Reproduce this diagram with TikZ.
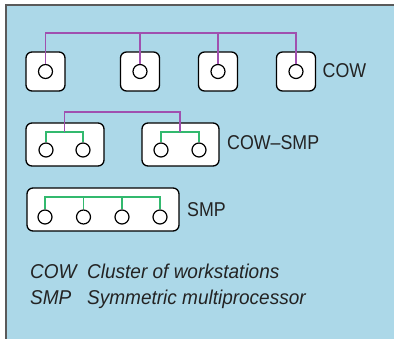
\documentclass[tikz,border=0pt]{standalone}
\usepackage{fontspec}
\setmainfont{Liberation Sans}
\newfontfamily\condfont[FakeStretch=0.89]{Liberation Sans}
\newfontfamily\legfont[FakeStretch=0.95]{Liberation Sans Italic}
\definecolor{bgblue}{RGB}{172,216,232}
\definecolor{pur}{RGB}{160,80,175}
\definecolor{grn}{RGB}{50,185,110}
\definecolor{txt}{RGB}{35,35,35}
\definecolor{edge}{RGB}{90,90,90}
\begin{document}
\begin{tikzpicture}[x=1pt,y=-1pt,
  box/.style={draw=black,fill=white,line width=1.3pt,rounded corners=6pt,inner sep=0pt},
  cpu/.style={draw=black,fill=white,circle,line width=1.2pt,minimum size=14pt,inner sep=0pt},
  pbus/.style={draw=pur,line width=1.5pt},
  gbus/.style={draw=grn,line width=1.5pt},
  lab/.style={anchor=west,inner sep=0pt,text=txt,font=\condfont\fontsize{20}{23}\selectfont},
  leg/.style={anchor=base west,inner sep=0pt,text=txt,font=\legfont\fontsize{20}{23}\selectfont}]
\useasboundingbox (0,0) rectangle (394,339);
\fill[bgblue] (6,5) rectangle (394,339);
\draw[edge,line width=1.8pt] (6,339) -- (6,5) -- (394,5);
% COW row
\node[box,minimum width=39pt,minimum height=39pt] (b1) at (45.5,71.5) {};
\node[box,minimum width=39pt,minimum height=39pt] (b2) at (140,71.5) {};
\node[box,minimum width=39pt,minimum height=39pt] (b3) at (218,71.5) {};
\node[box,minimum width=39pt,minimum height=39pt] (b4) at (296,71.5) {};
\node[cpu] (c1) at (45.5,71.5) {};
\node[cpu] (c2) at (140,71.5) {};
\node[cpu] (c3) at (218,71.5) {};
\node[cpu] (c4) at (296,71.5) {};
\coordinate (pb1) at (0,33);
\draw[pbus] (c1.north) |- (c4.north |- pb1) -- (c4.north);
\draw[pbus] (c2.north) -- (c2.north |- pb1);
\draw[pbus] (c3.north) -- (c3.north |- pb1);
\node[lab] (lcow) at (322.5,71) {COW};
% COW-SMP row
\node[box,minimum width=78pt,minimum height=43pt] (ba) at (65,144.5) {};
\node[box,minimum width=77pt,minimum height=43pt] (bb) at (180.5,144.5) {};
\node[cpu] (a1) at (46,150) {};
\node[cpu] (a2) at (83,150) {};
\node[cpu] (a3) at (161,150) {};
\node[cpu] (a4) at (199,150) {};
\coordinate (gb2) at (0,132);
\coordinate (pb2) at (0,112);
\draw[gbus] (a1.north) |- (a2.north |- gb2) -- (a2.north);
\draw[gbus] (a3.north) |- (a4.north |- gb2) -- (a4.north);
\coordinate (ma) at (64.5,132);
\coordinate (mb) at (180,132);
\draw[pbus] (ma) |- (mb |- pb2) -- (mb);
\node[lab] (lcs) at (227,143) {COW–SMP};
% SMP row
\node[box,minimum width=152pt,minimum height=43pt] (bs) at (103,209.5) {};
\node[cpu] (s1) at (45,217) {};
\node[cpu] (s2) at (83.5,217) {};
\node[cpu] (s3) at (122,217) {};
\node[cpu] (s4) at (160,217) {};
\coordinate (gb3) at (0,197);
\draw[gbus] (s1.north) |- (s4.north |- gb3) -- (s4.north);
\draw[gbus] (s2.north) -- (s2.north |- gb3);
\draw[gbus] (s3.north) -- (s3.north |- gb3);
\node[lab] (lsmp) at (187,210) {SMP};
% legend
\node[leg] (k1) at (30,279) {COW};
\node[leg] (d1) at (87,279) {Cluster of workstations};
\node[leg] (k2) at (30,305) {SMP};
\node[leg] (d2) at (87,305) {Symmetric multiprocessor};
\end{tikzpicture}
\end{document}
